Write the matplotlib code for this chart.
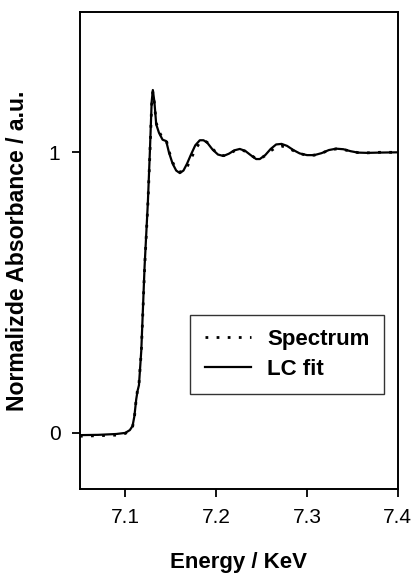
import matplotlib.pyplot as plt

plt.rcParams['font.family'] = ['Liberation Sans', 'DejaVu Sans']

# energy grid (keV) shared by both curves
energy = [7.050, 7.070, 7.090, 7.100, 7.105, 7.108, 7.110, 7.112, 7.1135, 7.115,
          7.1176, 7.1212, 7.1248, 7.127, 7.129, 7.1303, 7.132, 7.134, 7.137, 7.141,
          7.145, 7.148, 7.152, 7.156, 7.160, 7.164, 7.168, 7.172, 7.177, 7.182,
          7.186, 7.190, 7.196, 7.202, 7.208, 7.214, 7.220, 7.226, 7.232, 7.238,
          7.244, 7.248, 7.254, 7.260, 7.266, 7.272, 7.278, 7.285, 7.292, 7.300,
          7.308, 7.316, 7.324, 7.332, 7.340, 7.348, 7.356, 7.366, 7.380, 7.400]

# measured spectrum
spectrum = [-0.012, -0.010, -0.008, -0.002, 0.008, 0.022, 0.055, 0.120, 0.155, 0.175,
            0.290, 0.585, 0.815, 0.990, 1.170, 1.215, 1.175, 1.105, 1.075, 1.050,
            1.045, 1.005, 0.965, 0.940, 0.930, 0.932, 0.948, 0.975, 1.010, 1.035,
            1.042, 1.036, 1.012, 0.994, 0.988, 0.994, 1.005, 1.010, 1.004, 0.990,
            0.978, 0.977, 0.988, 1.005, 1.018, 1.022, 1.018, 1.006, 0.995, 0.990,
            0.990, 0.997, 1.007, 1.012, 1.010, 1.004, 0.999, 0.998, 1.000, 1.000]

# linear combination fit
lc_fit = [-0.008, -0.007, -0.004, 0.000, 0.010, 0.025, 0.060, 0.120, 0.150, 0.170,
          0.295, 0.593, 0.820, 1.000, 1.180, 1.222, 1.180, 1.100, 1.070, 1.045,
          1.040, 1.000, 0.960, 0.935, 0.926, 0.935, 0.960, 0.990, 1.025, 1.043,
          1.043, 1.035, 1.010, 0.992, 0.987, 0.995, 1.007, 1.012, 1.005, 0.990,
          0.976, 0.976, 0.990, 1.012, 1.028, 1.030, 1.023, 1.008, 0.996, 0.990,
          0.990, 0.997, 1.008, 1.013, 1.011, 1.004, 0.999, 0.998, 0.999, 1.000]

x_ticks = [7.1, 7.2, 7.3, 7.4]
y_ticks = [0, 1]

fig = plt.figure(figsize=(4.14, 5.73), dpi=100)
ax = fig.add_axes([0.193, 0.1466, 0.768, 0.8324])

ax.plot(energy, spectrum, color='black', linestyle=':', linewidth=2.0, label='Spectrum')
ax.plot(energy, lc_fit, color='black', linestyle='-', linewidth=1.6, label='LC fit')

ax.set_xlim(7.05, 7.4)
ax.set_ylim(-0.2, 1.5)
ax.set_xticks(x_ticks)
ax.set_xticklabels([f"{t:.1f}" for t in x_ticks])
ax.set_yticks(y_ticks)
ax.tick_params(direction='out', length=6, width=1.3, labelsize=15, pad=8)

for sp in ax.spines.values():
    sp.set_linewidth(1.4)

ax.set_xlabel('Energy / KeV', fontsize=16, fontweight='bold', labelpad=18)
ax.set_ylabel('Normalizde Absorbance / a.u.', fontsize=16.6, fontweight='bold', labelpad=14)

handles, labels = ax.get_legend_handles_labels()
handles[0].set_linestyle((0, (1, 3)))
leg = ax.legend(handles, labels, loc='lower right', bbox_to_anchor=(0.956, 0.1985),
                borderaxespad=0, fancybox=False, framealpha=1, edgecolor='#333333',
                prop={'weight': 'bold', 'size': 16}, handlelength=2.1,
                handletextpad=0.7, borderpad=0.65, labelspacing=0.4)
leg.get_frame().set_linewidth(1.0)

fig.savefig('out.png', dpi=100)
